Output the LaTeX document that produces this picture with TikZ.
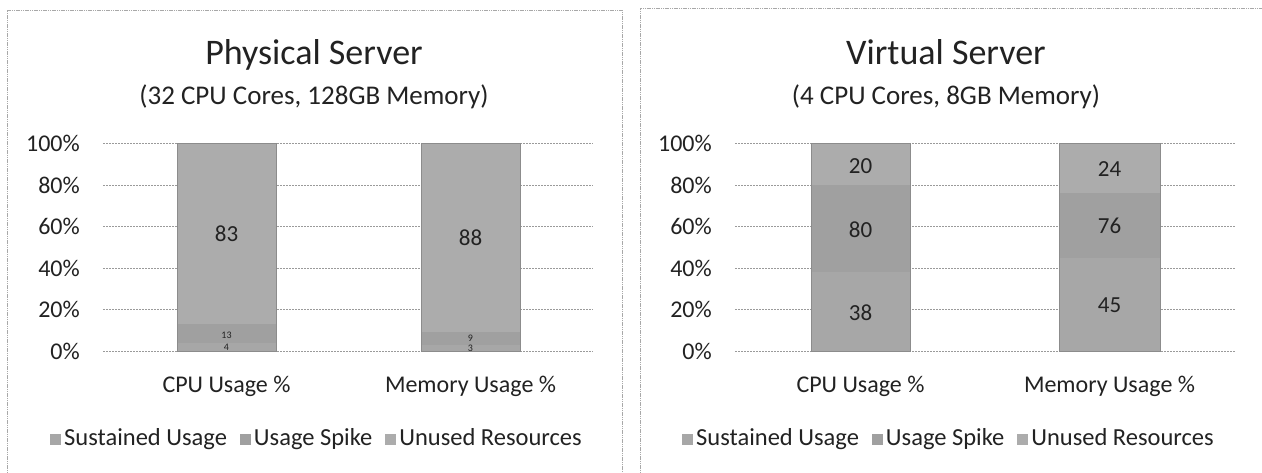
\documentclass[tikz,border=0pt]{standalone}
\usepackage{fontspec}
\setmainfont{Carlito}
\definecolor{ink}{HTML}{222222}
\definecolor{framegray}{HTML}{A8A8A8}
\definecolor{gridgray}{HTML}{9A9A9A}
\definecolor{edgegray}{HTML}{8C8C8C}
\definecolor{sust}{HTML}{A7A7A7}
\definecolor{spike}{HTML}{A0A0A0}
\definecolor{unused}{HTML}{ACACAC}
% vertical position of a percentage on the value axis
\newcommand\pcty[1]{351-2.075*#1}
% small legend swatch
\newcommand\swatch[1]{\textcolor{#1}{\rule{11pt}{11pt}}\hspace{3pt}}
\begin{document}
\begin{tikzpicture}[x=1pt,y=-1pt,
  frame/.style={draw=framegray,line width=0.8pt,dash pattern=on 1.2pt off 0.6pt},
  gridline/.style={draw=gridgray,line width=0.7pt,dash pattern=on 2pt off 1pt},
  baredge/.style={draw=edgegray,line width=0.5pt},
  charttitle/.style={font=\fontsize{36}{40}\selectfont,anchor=base,text=ink,inner sep=0pt},
  chartsub/.style={font=\fontsize{27}{30}\selectfont,anchor=base,text=ink,inner sep=0pt},
  tick/.style={font=\fontsize{24}{26}\selectfont,anchor=east,text=ink,inner sep=0pt},
  cat/.style={font=\fontsize{24}{26}\selectfont,anchor=base,text=ink,inner sep=0pt},
  val/.style={font=\fontsize{23}{25}\selectfont,text=ink,inner sep=0pt},
  smallval/.style={font=\fontsize{10}{10}\selectfont,text=ink,inner sep=0pt},
  legend/.style={font=\fontsize{24.5}{26}\selectfont,anchor=base,text=ink,inner sep=0pt}]
\useasboundingbox[fill=white] (0,0) rectangle (1262,473);

% ---------- panel frames ----------
\draw[frame] (7,473) -- (7,10) -- (622,10) -- (622,473);
\draw[frame] (640,473) -- (640,8) -- (1262,8);

% ---------- Physical Server ----------
\node[charttitle] (ptitle) at (314,65) {Physical Server};
\node[chartsub] (psub) at (314,105) {(32 CPU Cores, 128GB Memory)};
\foreach \p in {0,20,...,100}{
  \draw[gridline] (103,{\pcty{\p}}) -- (593,{\pcty{\p}});
  \node[tick] (ptick\p) at (80,{\pcty{\p}}) {\p\%};
}
% CPU bar
\fill[sust]   (177,{\pcty{0}})  rectangle (276,{\pcty{4}});
\fill[spike]  (177,{\pcty{4}})  rectangle (276,{\pcty{13}});
\fill[unused] (177,{\pcty{13}}) rectangle (276,{\pcty{100}});
\draw[baredge] (177,{\pcty{0}}) rectangle (276,{\pcty{100}});
% Memory bar
\fill[sust]   (421,{\pcty{0}})  rectangle (520,{\pcty{3}});
\fill[spike]  (421,{\pcty{3}})  rectangle (520,{\pcty{9}});
\fill[unused] (421,{\pcty{9}})  rectangle (520,{\pcty{100}});
\draw[baredge] (421,{\pcty{0}}) rectangle (520,{\pcty{100}});
\node[val] (pc83) at (226.5,{\pcty{56.5}}) {83};
\node[smallval] (pc13) at (226.5,{\pcty{7.8}}) {13};
\node[smallval] (pc4) at (226.5,{\pcty{1.6}}) {4};
\node[val] (pm88) at (470.5,{\pcty{54.5}}) {88};
\node[smallval] (pm9) at (470.5,{\pcty{6.3}}) {9};
\node[smallval] (pm3) at (470.5,{\pcty{1.5}}) {3};
\node[cat] (pcpu) at (226.5,392) {CPU Usage \%};
\node[cat] (pmem) at (470.5,392) {Memory Usage \%};
\node[legend] (plegend) at (316,445)
  {\swatch{sust}Sustained Usage\hspace{13pt}\swatch{spike}Usage Spike\hspace{13pt}\swatch{unused}Unused Resources};

% ---------- Virtual Server ----------
\node[charttitle] (vtitle) at (946,65) {Virtual Server};
\node[chartsub] (vsub) at (946,105) {(4 CPU Cores, 8GB Memory)};
\foreach \p in {0,20,...,100}{
  \draw[gridline] (735,{\pcty{\p}}) -- (1235,{\pcty{\p}});
  \node[tick] (vtick\p) at (712,{\pcty{\p}}) {\p\%};
}
% CPU bar
\fill[sust]   (811,{\pcty{0}})  rectangle (910,{\pcty{38}});
\fill[spike]  (811,{\pcty{38}}) rectangle (910,{\pcty{80}});
\fill[unused] (811,{\pcty{80}}) rectangle (910,{\pcty{100}});
\draw[baredge] (811,{\pcty{0}}) rectangle (910,{\pcty{100}});
% Memory bar
\fill[sust]   (1059,{\pcty{0}})  rectangle (1160,{\pcty{45}});
\fill[spike]  (1059,{\pcty{45}}) rectangle (1160,{\pcty{76}});
\fill[unused] (1059,{\pcty{76}}) rectangle (1160,{\pcty{100}});
\draw[baredge] (1059,{\pcty{0}}) rectangle (1160,{\pcty{100}});
\node[val] (vc20) at (860.5,{\pcty{89}}) {20};
\node[val] (vc80) at (860.5,{\pcty{58.5}}) {80};
\node[val] (vc38) at (860.5,{\pcty{18.5}}) {38};
\node[val] (vm24) at (1109.5,{\pcty{87.5}}) {24};
\node[val] (vm76) at (1109.5,{\pcty{60.5}}) {76};
\node[val] (vm45) at (1109.5,{\pcty{22}}) {45};
\node[cat] (vcpu) at (860.5,392) {CPU Usage \%};
\node[cat] (vmem) at (1109.5,392) {Memory Usage \%};
\node[legend] (vlegend) at (948,445)
  {\swatch{sust}Sustained Usage\hspace{13pt}\swatch{spike}Usage Spike\hspace{13pt}\swatch{unused}Unused Resources};
\end{tikzpicture}
\end{document}
